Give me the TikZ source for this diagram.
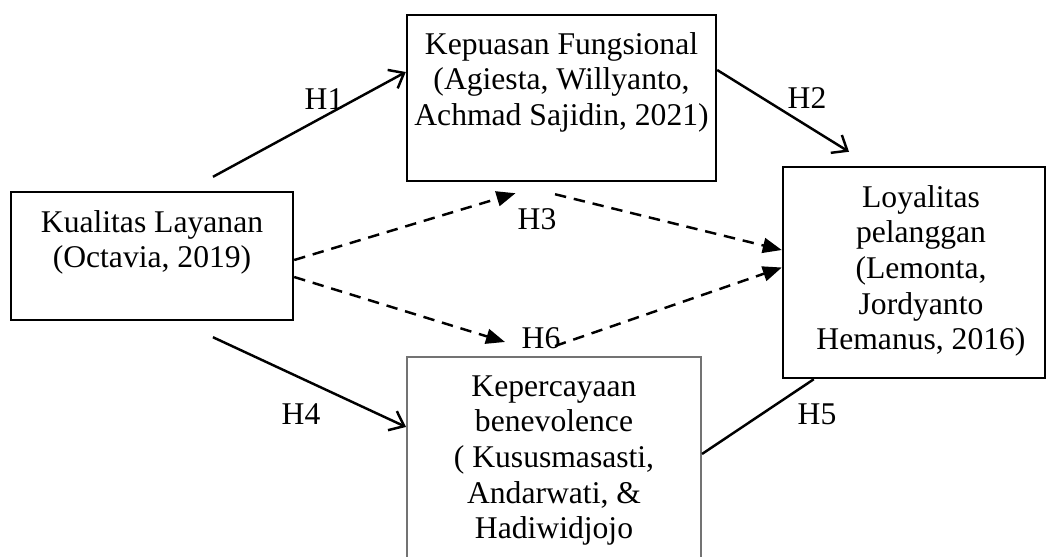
\documentclass[tikz,border=0pt]{standalone}
\usepackage{fontspec}
\setmainfont{Liberation Serif}
\usetikzlibrary{arrows.meta,positioning}

\begin{document}
\begin{tikzpicture}[
  x=0.02cm,y=-0.02cm,
  font=\fontsize{18}{20.3}\selectfont,
  box/.style={draw=black,line width=1.4pt,inner sep=0pt},
  txt/.style={align=center,inner sep=0pt},
  hyp/.style={inner sep=1pt},
  direct/.style={line width=1.4pt,-{Straight Barb[length=0.26cm,width=0.42cm]}},
  indirect/.style={line width=1.4pt,dash pattern=on 6.5pt off 4.5pt,
    -{Triangle[length=0.38cm,width=0.3cm]}}
]
  \clip (0,0) rectangle (1047,556);

  % boxes
  \node[box,minimum width=5.64cm,minimum height=2.56cm] (kual) at (152,256) {};
  \node[box,minimum width=6.18cm,minimum height=3.32cm] (kq) at (561.5,98) {};
  \node[box,minimum width=5.24cm,minimum height=4.22cm] (loy) at (914,272.5) {};
  \node[box,draw=black!55,line width=1.2pt,minimum width=5.88cm,
    minimum height=4.84cm] (kp) at (554,478) {};

  \node[txt,below=0.38cm of kual.north] (kualtxt)
    {Kualitas Layanan\\(Octavia, 2019)};
  \node[txt,below=0.36cm of kq.north] (kqtxt)
    {Kepuasan Fungsional\\(Agiesta, Willyanto,\\Achmad Sajidin, 2021)};
  \node[txt,below=0.38cm of loy.north,xshift=0.14cm] (loytxt)
    {Loyalitas\\pelanggan\\(Lemonta,\\Jordyanto\\Hemanus, 2016)};
  \node[txt,below=0.38cm of kp.north] (kptxt)
    {Kepercayaan\\benevolence\\( Kususmasasti,\\Andarwati, \&\\Hadiwidjojo};

  % direct paths
  \draw[direct] ([xshift=1.22cm,yshift=0.28cm]kual.north) -- ([yshift=0.52cm]kq.west);
  \draw[direct] ([yshift=0.56cm]kq.east) -- ([xshift=-1.3cm,yshift=0.28cm]loy.north);
  \draw[direct] ([xshift=1.22cm,yshift=-0.32cm]kual.south) -- ([yshift=-1.42cm]kp.north west);
  \draw[line width=1.4pt] ([yshift=-1.96cm]kp.north east) -- ([xshift=0.64cm]loy.south west);

  % mediated paths
  \draw[indirect] ([yshift=-0.08cm]kual.east) -- ([xshift=-0.92cm,yshift=-0.22cm]kq.south);
  \draw[indirect] ([xshift=-0.13cm,yshift=-0.24cm]kq.south) -- ([yshift=0.45cm]loy.west);
  \draw[indirect] ([yshift=-0.42cm]kual.east) -- ([xshift=-0.98cm,yshift=0.28cm]kp.north);
  \draw[indirect] ([xshift=0.02cm,yshift=0.2cm]kp.north) -- ([yshift=0.1cm]loy.west);

  \node[hyp] (h1) at (324,99) {H1};
  \node[hyp] (h2) at (807,98) {H2};
  \node[hyp] (h3) at (537,219) {H3};
  \node[hyp] (h4) at (301,414) {H4};
  \node[hyp] (h5) at (817,414) {H5};
  \node[hyp] (h6) at (541,338) {H6};
\end{tikzpicture}
\end{document}
